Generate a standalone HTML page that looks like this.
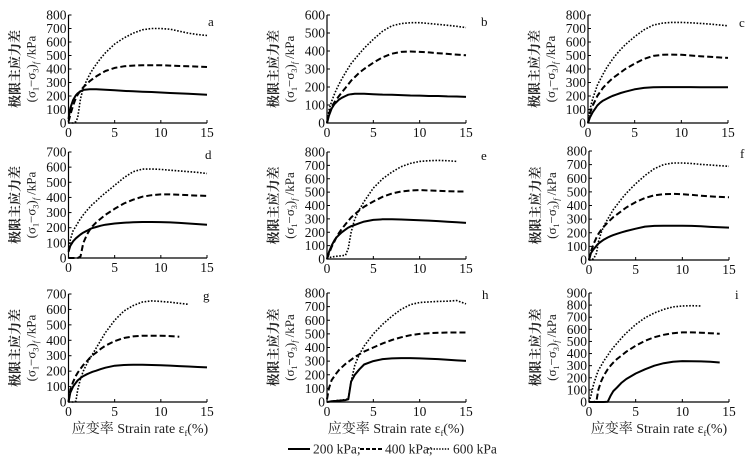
<!DOCTYPE html>
<html><head><meta charset="utf-8"><style>
html,body{margin:0;padding:0;background:#fff;}
svg{display:block;}
svg text{font-family:"Liberation Serif","Noto Serif CJK SC",serif;}
</style></head><body>
<svg id="chart" width="752" height="464" viewBox="0 0 752 464"></svg>
<script>
const strain = [0,0.2,0.5,0.8,1,1.3,1.6,2,2.3,2.6,3,3.5,4,5,6,7,8,9,10,11,12,13,14,15];
const xTicks = [0,5,10,15];
const legendLabels = ["200 kPa;","400 kPa;","600 kPa"];

const a200 = [30,110,170,205,220,235,245,248,250,250,250,248,246,242,238,235,232,230,226,222,219,216,213,210];
const a400 = [10,60,130,185,210,240,265,290,310,325,345,365,385,408,420,425,428,428,428,425,422,420,418,415];
const a600 = [0,0,0,10,40,180,260,320,360,395,435,480,520,585,630,665,690,700,700,695,680,665,655,648];
const b200 = [0,40,80,105,115,130,140,150,157,160,162,162,162,160,158,157,155,153,152,150,150,148,147,145];
const b400 = [0,50,90,115,130,150,170,195,215,235,255,280,300,335,365,385,395,397,395,392,388,384,380,376];
const b600 = [0,70,120,160,185,215,245,280,305,330,355,385,415,465,510,540,552,557,557,553,548,543,537,530];
const c200 = [0,40,80,110,130,150,165,180,190,200,210,222,232,250,260,265,266,266,266,266,265,265,265,265];
const c400 = [0,70,130,170,200,230,260,290,310,330,350,375,400,440,475,497,505,507,505,500,495,490,486,482];
const c600 = [0,100,180,240,280,320,360,410,440,470,505,545,580,640,690,725,740,745,745,742,738,733,727,720];
const d200 = [40,80,110,130,140,155,168,180,190,198,205,213,220,228,233,236,238,238,237,235,232,228,224,220];
const d400 = [0,0,0,0,0,10,100,155,185,210,235,260,285,325,360,385,405,415,420,420,418,415,412,410];
const d600 = [50,120,180,210,230,260,285,315,335,355,375,405,430,480,530,570,587,588,585,580,575,570,565,558];
const e200 = [0,50,100,140,160,180,200,220,235,245,255,268,280,292,297,297,295,292,290,287,283,279,275,270];
const e400 = [0,40,90,130,160,195,225,260,285,310,335,365,390,430,465,490,505,512,515,512,510,507,505,505];
const e600 = [0,10,15,18,20,22,25,28,80,200,300,370,430,530,600,650,690,715,730,735,737,735,730,null];
const f200 = [0,50,80,105,120,135,150,165,175,183,192,203,213,230,245,250,252,252,251,250,247,243,240,238];
const f400 = [0,60,120,165,190,220,245,275,295,315,335,360,385,425,455,475,483,485,483,478,472,467,463,460];
const f600 = [0,0,10,50,130,200,250,300,335,370,405,450,490,560,620,670,700,712,712,708,702,697,692,688];
const g200 = [0,60,100,125,140,155,168,180,188,196,203,213,222,235,240,242,242,240,238,236,233,230,227,224];
const g400 = [0,80,130,170,190,215,240,265,285,303,320,345,365,395,415,425,430,430,430,427,423,null,null,null];
const g600 = [0,0,0,5,80,150,200,250,280,310,350,400,450,530,590,625,648,655,652,647,640,633,null,null];
const h200 = [0,2,5,7,8,10,12,14,20,150,200,240,275,300,315,320,322,322,320,318,315,310,305,302];
const h400 = [20,100,160,190,210,235,255,280,295,310,330,350,370,400,430,455,475,490,500,505,508,510,510,510];
const h600 = [0,2,5,8,10,12,15,18,25,150,270,350,410,500,570,630,680,715,730,735,738,740,745,720];
const i200 = [0,0,0,0,0,0,0,2,50,90,120,160,190,235,270,300,320,332,338,337,335,332,326,null];
const i400 = [0,0,0,10,100,170,220,270,300,325,355,385,415,465,505,535,555,568,575,575,572,568,563,null];
const i600 = [0,50,150,220,260,300,340,385,420,450,485,530,570,640,695,735,765,785,793,795,793,null,null,null];

const aYTicks=[0,100,200,300,400,500,600,700,800];
const bYTicks=[0,100,200,300,400,500,600];
const dYTicks=[0,100,200,300,400,500,600,700];
const iYTicks=[0,100,200,300,400,500,600,700,800,900];

const svg=document.getElementById('chart');
const NS='http://www.w3.org/2000/svg';
const SERIF='"Liberation Serif","Noto Serif CJK SC",serif';
function mk(tag,attrs,parent){const e=document.createElementNS(NS,tag);for(const k in attrs)e.setAttribute(k,attrs[k]);(parent||svg).appendChild(e);return e;}

const panels=[
 {id:'a',x0:68.5,x1:207,y0:123,y1:15,ymax:800,ticks:aYTicks,s:[a200,a400,a600],lx:208,ly:26},
 {id:'b',x0:327,x1:466,y0:123,y1:15,ymax:600,ticks:bYTicks,s:[b200,b400,b600],lx:481,ly:26},
 {id:'c',x0:588,x1:728,y0:123,y1:15,ymax:800,ticks:aYTicks,s:[c200,c400,c600],lx:739,ly:27},
 {id:'d',x0:68.5,x1:207,y0:258,y1:152,ymax:700,ticks:dYTicks,s:[d200,d400,d600],lx:205,ly:159},
 {id:'e',x0:327,x1:466,y0:259,y1:152,ymax:800,ticks:aYTicks,s:[e200,e400,e600],lx:481,ly:160},
 {id:'f',x0:589,x1:729,y0:260,y1:151,ymax:800,ticks:aYTicks,s:[f200,f400,f600],lx:740,ly:158},
 {id:'g',x0:68.5,x1:207,y0:402,y1:294,ymax:700,ticks:dYTicks,s:[g200,g400,g600],lx:203,ly:300},
 {id:'h',x0:327,x1:466,y0:402,y1:293,ymax:800,ticks:aYTicks,s:[h200,h400,h600],lx:482,ly:299},
 {id:'i',x0:589,x1:729,y0:402,y1:293,ymax:900,ticks:iYTicks,s:[i200,i400,i600],lx:735,ly:299}
];
const styles=[
 {w:2,dash:''},
 {w:2,dash:'6,3'},
 {w:1.6,dash:'1.6,1.6'}
];
const seriesNames=['series-200kpa','series-400kpa','series-600kpa'];

panels.forEach(p=>{
 const g=mk('g',{});
 
 
 const sx=v=>p.x0+(v/15)*(p.x1-p.x0);
 const sy=v=>p.y0-(v/p.ymax)*(p.y0-p.y1);
 const ax=mk('path',{d:`M${p.x0},${p.y1}V${p.y0}H${p.x1}`,fill:'none',stroke:'#000','stroke-width':1.2},g);
 
 
 p.ticks.forEach(t=>{
  const y=sy(t);
  mk('line',{x1:p.x0,x2:p.x0+3,y1:y,y2:y,stroke:'#000','stroke-width':1},g);
  const tl=mk('text',{x:p.x0-2,y:y+4.5,'text-anchor':'end','font-size':13.5,fill:'#111','font-family':SERIF},g);
  tl.textContent=t;
  
  
 });
 xTicks.forEach(t=>{
  const x=sx(t);
  mk('line',{x1:x,x2:x,y1:p.y0,y2:p.y0-3,stroke:'#000','stroke-width':1},g);
  const tl=mk('text',{x:x,y:p.y0+14,'text-anchor':'middle','font-size':13.5,fill:'#111','font-family':SERIF},g);
  tl.textContent=t;
  
  
 });
 const tx1=p.x0-49, tx2=p.x0-33, cy=(p.y0+p.y1)/2;
 const t1=mk('text',{x:tx1,y:cy,'text-anchor':'middle','font-size':13,'font-family':SERIF,transform:`rotate(-90 ${tx1} ${cy})`,'font-weight':'bold',fill:'#222'},g);
 t1.textContent='极限主应力差';
 
 
 const t2=mk('text',{x:tx2,y:cy,'text-anchor':'middle','font-size':13,'font-family':SERIF,transform:`rotate(-90 ${tx2} ${cy})`,fill:'#222'},g);
 t2.innerHTML='(σ<tspan font-size="8" dy="3">1</tspan><tspan dy="-3">−σ</tspan><tspan font-size="8" dy="3">3</tspan><tspan dy="-3">)</tspan><tspan font-size="8" dy="3" font-style="italic">f</tspan><tspan dy="-3"> /kPa</tspan>';
 
 
 const lt=mk('text',{x:p.lx,y:p.ly,'font-size':13,fill:'#111','font-family':SERIF},g);
 lt.textContent=p.id;
 
 
 p.s.forEach((arr,k)=>{
  let d='';let started=false;
  arr.forEach((v,i)=>{
   if(v===null||v===undefined){return;}
   d+=(started?'L':'M')+sx(strain[i]).toFixed(1)+','+sy(v).toFixed(1);
   started=true;
  });
  const pa=mk('path',{d:d,fill:'none',stroke:'#000','stroke-width':styles[k].w,'stroke-linejoin':'round'},g);
  if(styles[k].dash)pa.setAttribute('stroke-dasharray',styles[k].dash);
  
  
 });
});

[140,396,659].forEach((cx,i)=>{
 const t=mk('text',{x:cx,y:433,'text-anchor':'middle','font-size':14,fill:'#222','font-family':SERIF});
 t.innerHTML='应变率 Strain rate ε<tspan font-size="8" dy="3">f</tspan><tspan dy="-3">(%)</tspan>';
 
 
});

const lg=mk('g',{});


const lx=[288,360,428];
legendLabels.forEach((lab,k)=>{
 const ln=mk('line',{x1:lx[k],x2:lx[k]+22,y1:449,y2:449,stroke:'#000','stroke-width':styles[k].w},lg);
 if(styles[k].dash)ln.setAttribute('stroke-dasharray',k===1?'4,2':'1.4,1.4');
 
 
 const t=mk('text',{x:lx[k]+25,y:453.5,'font-size':13.5,fill:'#222','font-family':SERIF},lg);
 t.textContent=lab;
 
 
});
</script>
</body></html>
